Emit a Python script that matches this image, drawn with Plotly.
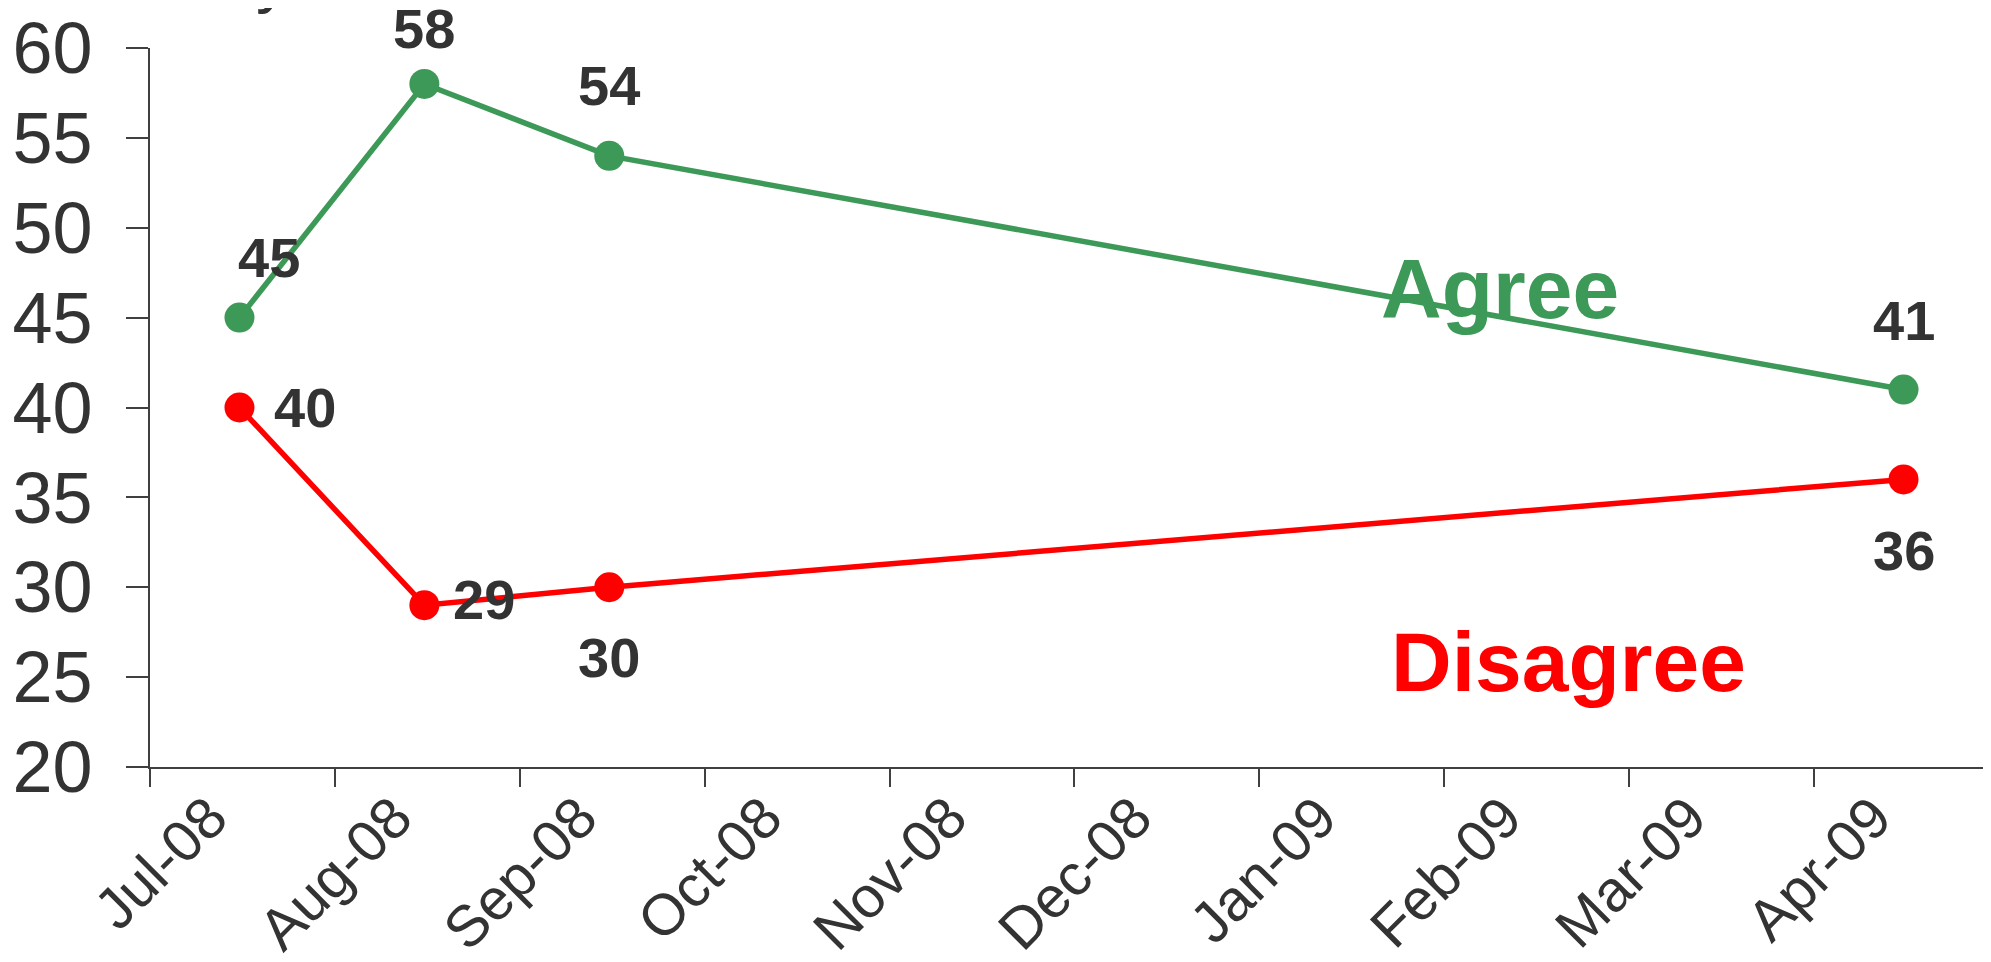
import pandas as pd
import plotly.graph_objects as go

# survey results (percent)
survey_dates = ['2008-07-15', '2008-08-15', '2008-09-15', '2009-04-15']
agree = [45, 58, 54, 41]
disagree = [40, 29, 30, 36]

month_labels = ['Jul-08', 'Aug-08', 'Sep-08', 'Oct-08', 'Nov-08',
				'Dec-08', 'Jan-09', 'Feb-09', 'Mar-09', 'Apr-09']
y_ticks = [20, 25, 30, 35, 40, 45, 50, 55, 60]

GREEN = '#3d9957'
RED = '#ff0000'
TEXT = '#333333'
FONT = 'Liberation Sans, Arial, sans-serif'

# months since Jul-08, so every month gets the same width (like the Excel axis)
dates = pd.to_datetime(pd.Series(survey_dates))
x_pos = ((dates.dt.year - 2008) * 12 + dates.dt.month - 7 + dates.dt.day / 31).tolist()

fig = go.Figure()

for name, values, colour in [('Agree', agree, GREEN), ('Disagree', disagree, RED)]:
	fig.add_trace(go.Scatter(
		x=x_pos,
		y=values,
		mode='lines+markers',
		name=name,
		line=dict(color=colour, width=5.5),
		marker=dict(color=colour, size=30),
		hoverinfo='y'
	))

# value labels: (dx, dy) pixel offsets per point
agree_offsets = [(30, 60), (0, 55), (0, 70), (0, 69)]
disagree_offsets = [(66, 0), (60, 6), (0, -70), (0, -71)]

annotations = []
for values, offsets in [(agree, agree_offsets), (disagree, disagree_offsets)]:
	for x, v, (dx, dy) in zip(x_pos, values, offsets):
		annotations.append(dict(
			x=x, y=v, text=f'<b>{v}</b>', showarrow=False,
			xshift=dx, yshift=dy,
			font=dict(family=FONT, size=56, color=TEXT)
		))

# series names written on the chart
annotations.append(dict(
	x=7.3, y=46.6, text='<b>Agree</b>', showarrow=False,
	font=dict(family=FONT, size=84, color=GREEN)
))
annotations.append(dict(
	x=7.67, y=25.85, text='<b>Disagree</b>', showarrow=False,
	font=dict(family=FONT, size=84, color=RED)
))

# title above the chart, cut off by the top edge in the original
annotations.append(dict(
	xref='paper', yref='paper', x=0.067, y=1.045, xanchor='center', yanchor='bottom',
	text='y', showarrow=False,
	font=dict(family=FONT, size=68, color=TEXT)
))

# the page adds an 8px body margin, so the figure is 8px smaller than the window
fig.update_layout(
	width=1983,
	height=954,
	margin=dict(l=142, r=0, t=40, b=195),
	paper_bgcolor='white',
	plot_bgcolor='white',
	showlegend=False,
	font=dict(family=FONT, color=TEXT),
	annotations=annotations,
	xaxis=dict(
		range=[0, 9.957],
		automargin=False,
		tickmode='array',
		tickvals=list(range(len(month_labels))),
		ticktext=month_labels,
		tickangle=-45,
		tickfont=dict(size=58, color=TEXT),
		ticks='outside',
		ticklen=18,
		tickwidth=2,
		tickcolor='#404040',
		ticklabelshift=60,
		ticklabelstandoff=-27,
		showline=True,
		linecolor='#404040',
		linewidth=2,
		showgrid=False,
		zeroline=False
	),
	yaxis=dict(
		range=[20, 60],
		automargin=False,
		tickmode='array',
		tickvals=y_ticks,
		tickfont=dict(size=72, color=TEXT),
		ticks='outside',
		ticklen=22,
		tickwidth=2,
		tickcolor='#404040',
		ticklabelstandoff=19,
		showline=True,
		linecolor='#404040',
		linewidth=2,
		showgrid=False,
		zeroline=False
	)
)

fig.write_html('out.html')
